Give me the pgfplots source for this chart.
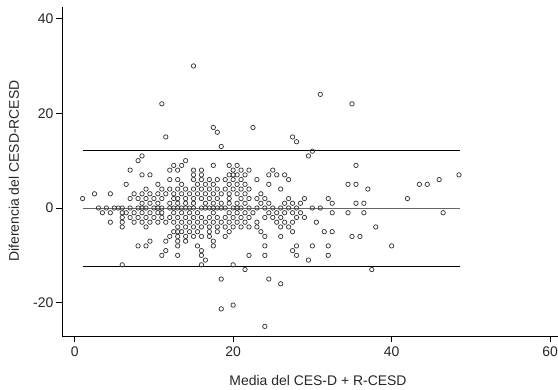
\documentclass[border=0pt]{standalone}
\usepackage{pgfplots}
\pgfplotsset{compat=1.18}
\usepackage{pgfplotstable}
\usepackage{fontspec}
\setmainfont{Liberation Sans}

\pgfplotstableread{
x y
15 30
11 22
31 24
35 22
11.5 15
17.5 17
18 16
22.5 17
27.5 15
28 14
18.5 13
29.5 11
30 12
8.5 11
8 10
14 10
35.5 9
48.5 7
46 6
43.5 5
44.5 5
34.5 5
35.5 5
37 4
42 2
1 2
2.5 3
4.5 3
12.5 9
13.5 9
17.5 9
19.5 9
20.5 9
7 8
12 8
13 8
15 8
16 8
20 8
21 8
22 8
25 8
8.5 7
9.5 7
15 7
16 7
19.5 7
20 7
20.5 7
21.5 7
24.5 7
25.5 7
26.5 7
12 6
13 6
15 6
16 6
17 6
18 6
19 6
20 6
21 6
23 6
27 6
6.5 5
10.5 5
13.5 5
15.5 5
16.5 5
17.5 5
19.5 5
20.5 5
21.5 5
24.5 5
9 4
11 4
12 4
13 4
14 4
15 4
16 4
17 4
18 4
19 4
20 4
21 4
22 4
26 4
7.5 3
8.5 3
9.5 3
10.5 3
11.5 3
12.5 3
13.5 3
14.5 3
15.5 3
16.5 3
17.5 3
18.5 3
19.5 3
20.5 3
21.5 3
23.5 3
7 2
8 2
9 2
10 2
11 2
12.5 2
13 2
14 2
15 2
16 2
17 2
18 2
19.5 2
21 2
22 2
23 2
24 2
27 2
29 2
32 2
8.5 1
9.5 1
10.5 1
12 1
13 1
14 1
15 1
16.5 1
17.5 1
18.5 1
19.5 1
20.5 1
21.5 1
23.5 1
24.5 1
26.5 1
27.5 1
28.5 1
32.5 1
35.5 1
36.5 1
3 0
4 0
5 0
6 0
7 0
8 0
9 0
10 0
11 0
12 0
13 0
14 0
15 0
16 0
17 0
18 0
19 0
20 0
21 0
22 0
23 0
24 0
25 0
26 0
27 0
28 0
30 0
31 0
5.5 0
8.5 0
10.5 0
12.5 0
13.5 0
14.5 0
16.5 0
17.5 0
18.5 0
20.5 0
3.5 -1
4.5 -1
6 -1
6.5 -1
7.5 -1
8.5 -1
9.5 -1
10.5 -1
11 -1
12.5 -1
13.5 -1
14.5 -1
15.5 -1
17.5 -1
19.5 -1
20.5 -1
21.5 -1
22.5 -1
24.5 -1
25.5 -1
26.5 -1
27.5 -1
28.5 -1
32.5 -1
34.5 -1
36.5 -1
46.5 -1
6 -2
7 -2
8 -2
9 -2
10 -2
11 -2
12 -2
13 -2
14 -2
15 -2
16 -2
17 -2
18 -2
19 -2
20 -2
21 -2
22 -2
24 -2
25 -2
26 -2
28 -2
29 -2
4.5 -3
6 -3
7.5 -3
8.5 -3
9.5 -3
10.5 -3
11.5 -3
12.5 -3
13.5 -3
14.5 -3
15.5 -3
16.5 -3
17.5 -3
18.5 -3
19.5 -3
20.5 -3
21.5 -3
23 -3
25.5 -3
26.5 -3
27.5 -3
30.5 -3
6 -4
9 -4
13 -4
14 -4
15 -4
16 -4
17 -4
18 -4
19 -4
20 -4
21 -4
22 -4
23 -4
26 -4
27 -4
38 -4
12.5 -5
13 -5
13.5 -5
14.5 -5
15.5 -5
17 -5
18 -5
19.5 -5
23.5 -5
27.5 -5
31.5 -5
32.5 -5
12 -6
13 -6
14 -6
15 -6
16 -6
17 -6
19 -6
24 -6
26 -6
35 -6
36 -6
9.5 -7
11.5 -7
13 -7
14 -7
17.5 -7
8 -8
9 -8
13 -8
15.5 -8
17.5 -8
24 -8
28 -8
30 -8
32 -8
40 -8
11.5 -9
16 -9
27.5 -9
11 -10
13 -10
16 -10
22 -10
24 -10
28 -10
32 -10
16.5 -11
29.5 -11
6 -12
16 -12
20 -12
21.5 -13
37.5 -13
18.5 -15
24.5 -15
26 -16
20 -20.5
18.5 -21.3
24 -25
}\pts

\begin{document}
\begin{tikzpicture}
\useasboundingbox (0,0) rectangle (558bp,390bp);
\begin{axis}[
  at={(62bp,54bp)}, anchor=south west,
  scale only axis, width=496bp, height=329bp,
  xmin=-1.6, xmax=61, ymin=-27.03, ymax=42.45,
  axis lines*=left,
  xtick={0,20,40,60}, ytick={-20,0,20,40},
  minor tick num=0,
  tick align=outside, major tick length=6bp,
  tick style={black, line width=0.6pt},
  axis line style={black, line width=0.8pt},
  /pgf/number format/assume math mode=true,
  every tick label/.append style={font=\fontsize{14}{16}\selectfont, text=black!85},
  yticklabel style={inner sep=1.5bp, xshift=-1bp},
  xticklabel style={yshift=-1bp},
  clip=false,
]
\addplot[only marks, mark=o, mark size=2.2bp, mark options={draw=black!78, line width=0.75pt}] table {\pts};
\addplot[black, line width=0.8pt] coordinates {(1.1,12.2) (48.6,12.2)};
\addplot[black!60, line width=0.7pt] coordinates {(1.1,0) (48.6,0)};
\addplot[black, line width=0.8pt] coordinates {(1.1,-12.4) (48.6,-12.4)};
\end{axis}
\node[font=\fontsize{14}{16}\selectfont, text=black!85] at (318bp,9bp) {Media del CES-D + R-CESD};
\node[rotate=90, font=\fontsize{14}{16}\selectfont, text=black!85] at (14bp,219bp) {Diferencia del CESD-RCESD};
\end{tikzpicture}
\end{document}
